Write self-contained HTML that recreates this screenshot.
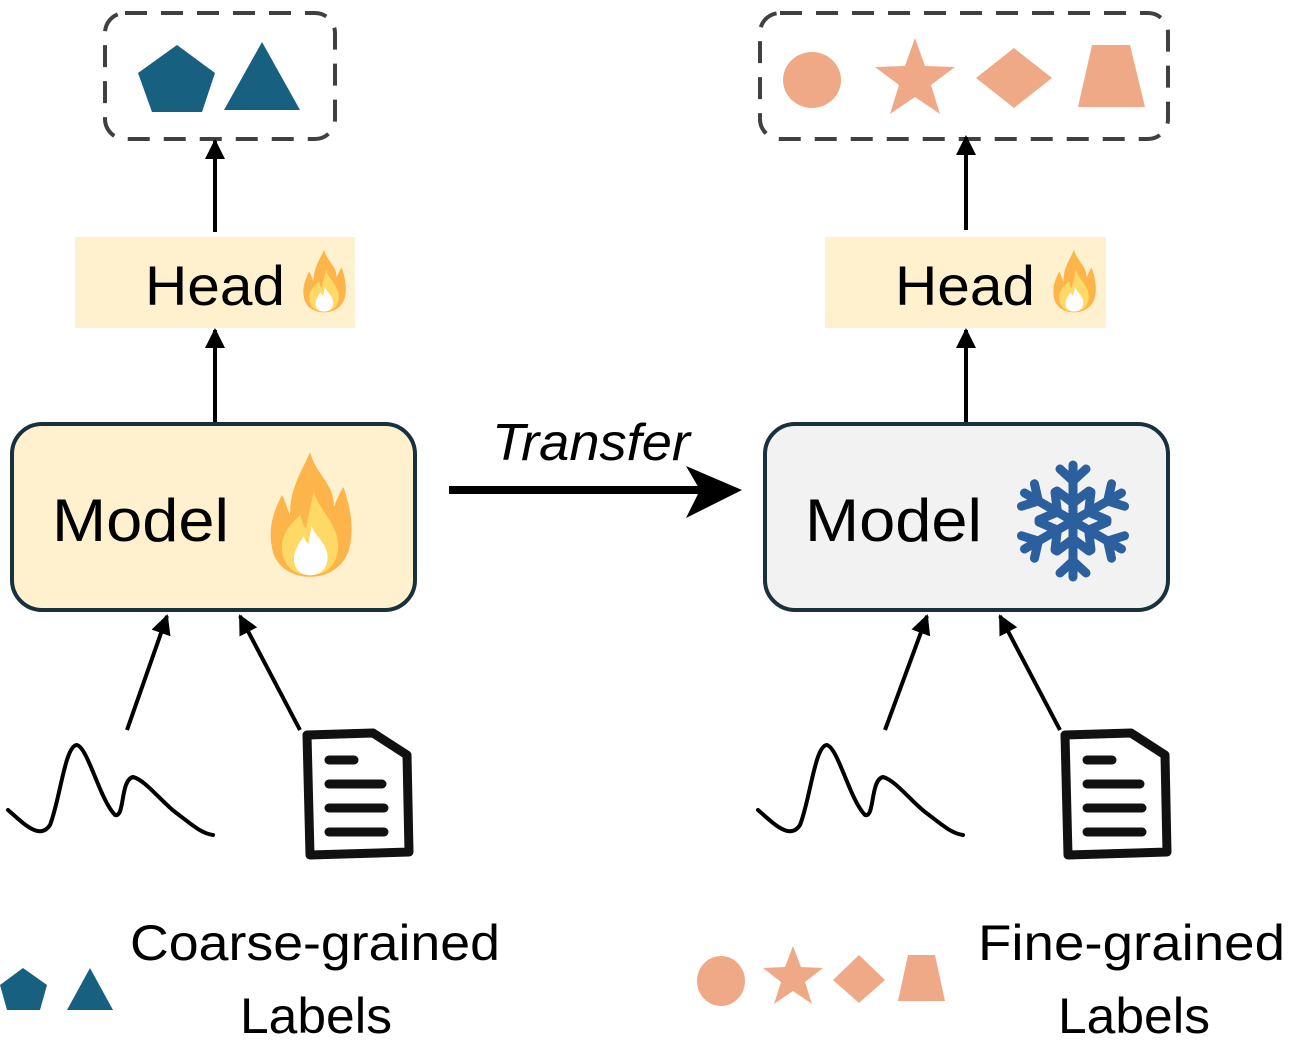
<!DOCTYPE html>
<html><head><meta charset="utf-8"><style>
html,body{margin:0;padding:0;background:#fff;}
svg{display:block;}
text{font-family:"Liberation Sans",sans-serif;fill:#000;}
</style></head><body>
<svg width="1290" height="1048" viewBox="0 0 1290 1048" xmlns="http://www.w3.org/2000/svg">
<defs>
<marker id="ah" viewBox="0 0 10 10" refX="9" refY="5" markerWidth="5" markerHeight="5" orient="auto"><path d="M0,0 L10,5 L0,10 Z" fill="#000"/></marker>
<g id="flame">
<path d="M50,0 C58,30 80,40 80,70 C84,60 88,50 92,45 C100,70 105,95 100,120 C95,145 75,160 50,160 C25,160 5,145 2,120 C-2,95 5,75 15,55 C20,65 22,75 25,80 C25,45 40,25 50,0 Z" fill="#fdb44b"/>
<path d="M55,50 C60,75 85,90 85,120 C85,145 70,158 50,158 C30,158 15,145 15,122 C15,100 30,90 38,80 C40,90 42,95 45,98 C48,80 52,65 55,50 Z" fill="#ffd966"/>
<path d="M52,95 C58,110 72,118 72,135 C72,150 62,158 50,158 C38,158 30,150 30,137 C30,125 38,115 42,108 C44,114 46,116 48,118 Z" fill="#fff"/>
</g>
</defs>

<rect x="105" y="13" width="230" height="126" rx="20" fill="none" stroke="#404040" stroke-width="4" stroke-dasharray="22,14"/>
<polygon points="177,45 215,73 202,112 152,112 138,73" fill="#17607f"/>
<polygon points="262,42 300,110 224,110" fill="#17607f"/>

<rect x="760" y="13" width="408" height="126" rx="20" fill="none" stroke="#404040" stroke-width="4" stroke-dasharray="22,14"/>
<ellipse cx="812" cy="80" rx="29" ry="28" fill="#f0a986"/>
<polygon points="915,38 925,66 955,67 931,85 940,114 915,97 890,114 899,85 875,67 905,66" fill="#f0a986"/>
<polygon points="1014,48 1052,78 1014,108 976,78" fill="#f0a986"/>
<polygon points="1092,45 1130,45 1145,107 1078,107" fill="#f0a986"/>

<rect x="75" y="237" width="280" height="91" fill="#fff1cd"/>
<text x="145" y="305" font-size="56" textLength="140" lengthAdjust="spacingAndGlyphs">Head</text>
<use href="#flame" transform="translate(303,250) scale(0.42,0.39)"/>
<rect x="825" y="237" width="281" height="91" fill="#fff1cd"/>
<text x="895" y="305" font-size="56" textLength="140" lengthAdjust="spacingAndGlyphs">Head</text>
<use href="#flame" transform="translate(1053,250) scale(0.42,0.39)"/>

<line x1="215" y1="232" x2="215" y2="141" stroke="#000" stroke-width="4" marker-end="url(#ah)"/>
<line x1="215" y1="422" x2="215" y2="330" stroke="#000" stroke-width="4" marker-end="url(#ah)"/>
<line x1="966" y1="230" x2="966" y2="137" stroke="#000" stroke-width="4" marker-end="url(#ah)"/>
<line x1="966" y1="422" x2="966" y2="330" stroke="#000" stroke-width="4" marker-end="url(#ah)"/>

<rect x="12" y="424" width="403" height="186" rx="30" fill="#fff1cd" stroke="#17313f" stroke-width="4"/>
<text x="52" y="541" font-size="60" textLength="177" lengthAdjust="spacingAndGlyphs">Model</text>
<use href="#flame" transform="translate(270,452) scale(0.8,0.78)"/>

<rect x="765" y="424" width="403" height="186" rx="30" fill="#f2f2f2" stroke="#17313f" stroke-width="4"/>
<text x="805" y="541" font-size="60" textLength="177" lengthAdjust="spacingAndGlyphs">Model</text>
<g stroke="#2b5f9e" stroke-width="9" stroke-linecap="round" fill="none" transform="translate(1073,521)">
<g id="arm"><line x1="0" y1="0" x2="0" y2="-56"/><polyline points="-13,-52 0,-40 13,-52"/><polyline points="-16,-30 0,-18 16,-30"/></g>
<use href="#arm" transform="rotate(60)"/><use href="#arm" transform="rotate(120)"/><use href="#arm" transform="rotate(180)"/><use href="#arm" transform="rotate(240)"/><use href="#arm" transform="rotate(300)"/>
</g>

<line x1="449" y1="490" x2="700" y2="490" stroke="#000" stroke-width="8"/>
<polygon points="686,466 742,490 686,518 700,490" fill="#000"/>
<text x="492" y="460" font-size="52" font-style="italic" textLength="198" lengthAdjust="spacingAndGlyphs">Transfer</text>

<g stroke="#000" stroke-width="4" marker-end="url(#ah)">
<line x1="127" y1="730" x2="167" y2="616"/>
<line x1="300" y1="730" x2="240" y2="616"/>
<line x1="885" y1="730" x2="927" y2="616"/>
<line x1="1060" y1="730" x2="1000" y2="616"/>
</g>

<g fill="none" stroke="#000" stroke-width="4" stroke-linecap="round" stroke-linejoin="round">
<path d="M8,810 C25,825 40,840 50,825 C60,800 65,745 77,745 C88,748 100,800 115,815 C125,818 120,780 133,777 C145,780 160,800 175,812 C190,823 200,833 213,835"/>
<path d="M758,810 C775,825 790,840 800,825 C810,800 815,745 827,745 C838,748 850,800 865,815 C875,818 870,780 883,777 C895,780 910,800 925,812 C940,823 950,833 963,835"/>
</g>

<g fill="none" stroke="#111" stroke-width="9" stroke-linecap="round" stroke-linejoin="round">
<path d="M307,735 L373,733 L407,755 L409,852 L310,855 Z"/>
<line x1="329" y1="760" x2="354" y2="760"/><line x1="329" y1="784" x2="382" y2="784"/><line x1="329" y1="808" x2="384" y2="808"/><line x1="329" y1="832" x2="384" y2="832"/>
<path d="M1065,735 L1131,733 L1165,755 L1167,852 L1068,855 Z"/>
<line x1="1087" y1="760" x2="1112" y2="760"/><line x1="1087" y1="784" x2="1140" y2="784"/><line x1="1087" y1="808" x2="1142" y2="808"/><line x1="1087" y1="832" x2="1142" y2="832"/>
</g>

<polygon points="23,968 47,985 40,1010 7,1010 0,985" fill="#17607f"/>
<polygon points="90,968 113,1010 67,1010" fill="#17607f"/>
<text x="130" y="960" font-size="50" textLength="370" lengthAdjust="spacingAndGlyphs">Coarse-grained</text>
<text x="240" y="1033" font-size="50" textLength="152" lengthAdjust="spacingAndGlyphs">Labels</text>

<ellipse cx="721" cy="981" rx="24" ry="25" fill="#f0a986"/>
<polygon points="793,946 801,967 823,968 805,982 812,1004 793,991 774,1004 781,982 763,968 785,967" fill="#f0a986"/>
<polygon points="859,955 885,980 859,1003 833,980" fill="#f0a986"/>
<polygon points="908,955 935,955 945,1001 898,1001" fill="#f0a986"/>
<text x="978" y="960" font-size="50" textLength="307" lengthAdjust="spacingAndGlyphs">Fine-grained</text>
<text x="1058" y="1033" font-size="50" textLength="152" lengthAdjust="spacingAndGlyphs">Labels</text>
</svg>
</body></html>
